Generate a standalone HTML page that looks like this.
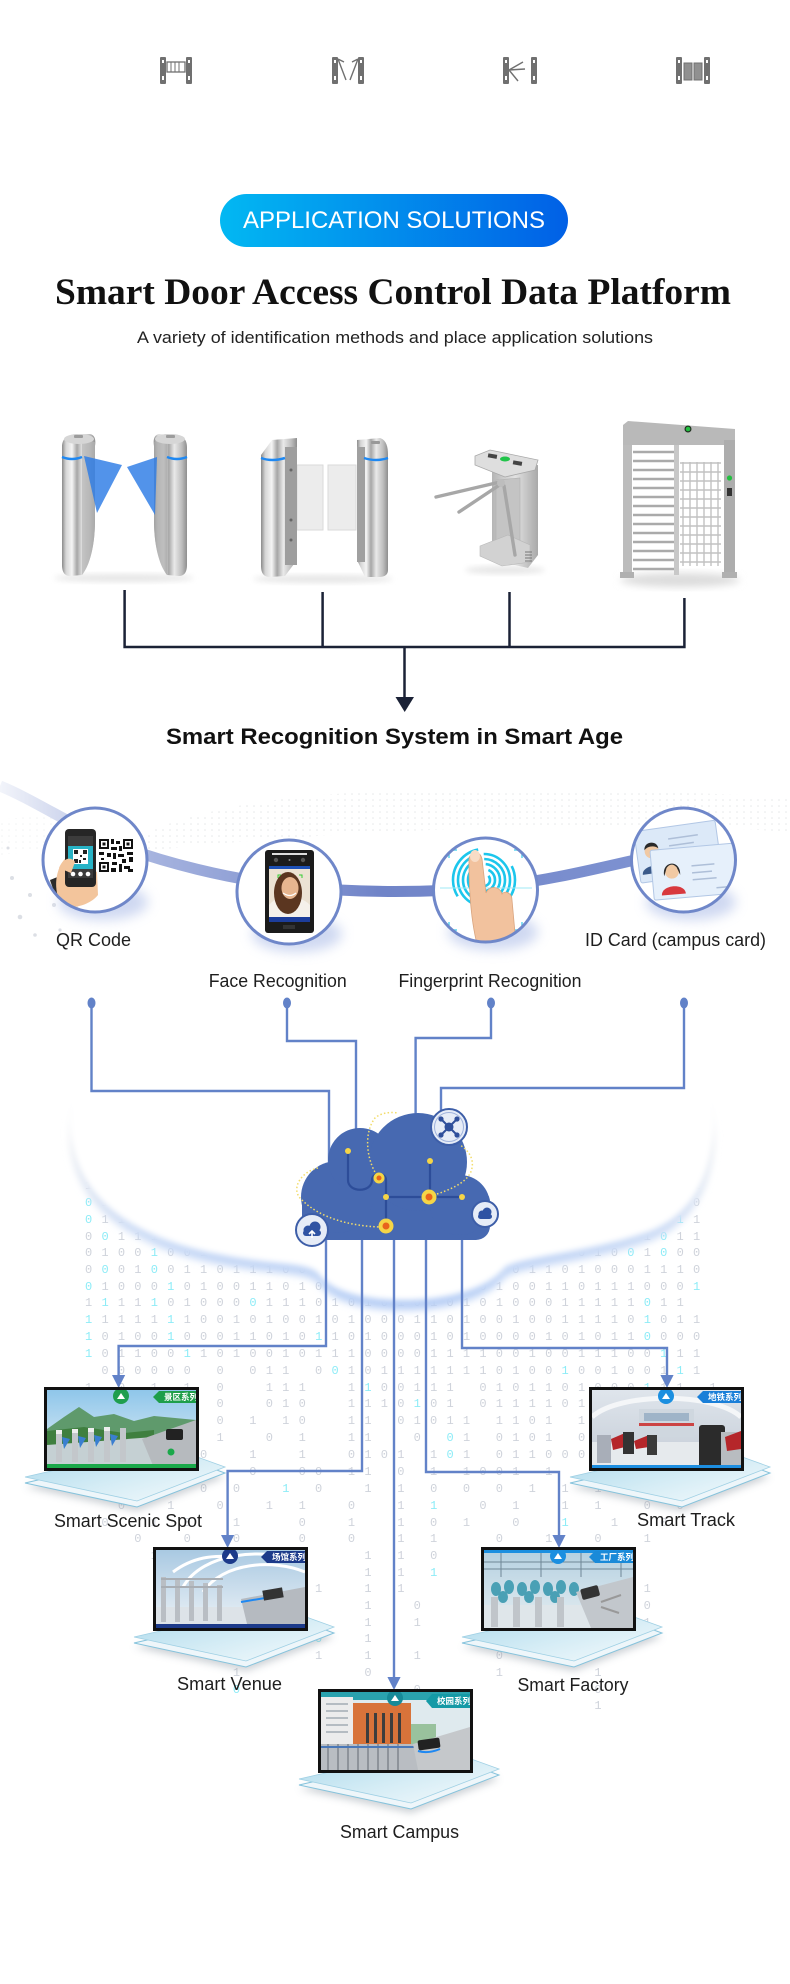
<!DOCTYPE html>
<html><head><meta charset="utf-8"><title>Smart Door Access Control Data Platform</title>
<style>
html,body{margin:0;padding:0;background:#fff;width:790px;height:1984px;overflow:hidden}
svg{display:block}
text{font-family:"Liberation Sans",Arial,sans-serif}
.lbl{font-size:18px;fill:#1e1e1e}
.bin{font-family:"Liberation Mono",monospace;font-size:12px;fill:#cfd3db;letter-spacing:9.23px;white-space:pre}
.c{fill:#8eecf7}
.tag{font-family:"Liberation Sans","Noto Sans CJK SC",sans-serif;font-size:8.5px;font-weight:bold;fill:#fff}
</style></head><body>
<svg width="790" height="1984" viewBox="0 0 790 1984" xmlns="http://www.w3.org/2000/svg">
<defs>
<linearGradient id="pill" x1="0" x2="1"><stop offset="0" stop-color="#02b8f2"/><stop offset="1" stop-color="#0160e6"/></linearGradient>
<linearGradient id="steel" x1="0" x2="1"><stop offset="0" stop-color="#8a8a8a"/><stop offset=".12" stop-color="#d6d6d6"/><stop offset=".3" stop-color="#f4f4f4"/><stop offset=".45" stop-color="#a6a6a6"/><stop offset=".62" stop-color="#e9e9e9"/><stop offset=".85" stop-color="#bcbcbc"/><stop offset="1" stop-color="#8e8e8e"/></linearGradient>
<linearGradient id="steel2" x1="0" x2="1"><stop offset="0" stop-color="#b5b5b5"/><stop offset=".5" stop-color="#e2e2e2"/><stop offset="1" stop-color="#a9a9a9"/></linearGradient>
<linearGradient id="band" x1="0" x2="1"><stop offset="0" stop-color="#f2f4fa"/><stop offset=".2" stop-color="#a9b6e0"/><stop offset=".55" stop-color="#7084c8"/><stop offset="1" stop-color="#8094d2"/></linearGradient>
<linearGradient id="plat" x1="0" y1="0" x2="1" y2="1"><stop offset="0" stop-color="#a6d7eb"/><stop offset=".55" stop-color="#d4ecf5"/><stop offset="1" stop-color="#f7fbfd"/></linearGradient>
<linearGradient id="skyA" x1="0" y1="0" x2="0" y2="1"><stop offset="0" stop-color="#8fc6ea"/><stop offset="1" stop-color="#e8f2f7"/></linearGradient>
<linearGradient id="skyB" x1="0" y1="0" x2="0" y2="1"><stop offset="0" stop-color="#dfe5ec"/><stop offset="1" stop-color="#c4ccd6"/></linearGradient>
<linearGradient id="skyC" x1="0" y1="0" x2="0" y2="1"><stop offset="0" stop-color="#a9c9e2"/><stop offset="1" stop-color="#eef3f7"/></linearGradient>
<linearGradient id="skyD" x1="0" y1="0" x2="0" y2="1"><stop offset="0" stop-color="#b4d0e0"/><stop offset="1" stop-color="#e6eef2"/></linearGradient>
<linearGradient id="cshadow" x1="0" y1="0" x2="0" y2="1"><stop offset="0" stop-color="#ffffff" stop-opacity="0"/><stop offset=".3" stop-color="#e4e8ef"/><stop offset=".7" stop-color="#c9daf6"/><stop offset="1" stop-color="#b5cdf5"/></linearGradient>
<filter id="b6" x="-30%" y="-30%" width="160%" height="160%"><feGaussianBlur stdDeviation="6"/></filter>
<filter id="b4" x="-30%" y="-30%" width="160%" height="160%"><feGaussianBlur stdDeviation="4"/></filter>
<filter id="b3" x="-30%" y="-30%" width="160%" height="160%"><feGaussianBlur stdDeviation="3"/></filter>
<filter id="b2" x="-30%" y="-30%" width="160%" height="160%"><feGaussianBlur stdDeviation="1.5"/></filter>
<pattern id="dots" width="7" height="6" patternUnits="userSpaceOnUse"><circle cx="2" cy="2" r="0.8" fill="#a3a8b2"/></pattern>
<clipPath id="cq"><circle cx="95" cy="860" r="51"/></clipPath>
<clipPath id="cf"><circle cx="289" cy="892" r="51"/></clipPath>
<clipPath id="cp"><circle cx="485.5" cy="890" r="51"/></clipPath>
<clipPath id="ci"><circle cx="683.5" cy="860" r="51"/></clipPath>
<clipPath id="scr"><rect x="3" y="3" width="149" height="78"/></clipPath>
</defs>

<!-- top gate icons -->
<g fill="#707070" stroke="none">
  <rect x="160" y="57" width="6" height="27" rx="1"/><rect x="186" y="57" width="6" height="27" rx="1"/>
  <rect x="167" y="62" width="18" height="10" fill="none" stroke="#707070" stroke-width="1.3"/>
  <path d="M171 62V72M175 62V72M179 62V72" stroke="#707070" stroke-width="1"/>
  <rect x="332" y="57" width="6" height="27" rx="1"/><rect x="358" y="57" width="6" height="27" rx="1"/>
  <path d="M338 59L346 80M358 59L350 80M338 59L344 62M358 59L352 62" stroke="#707070" stroke-width="1.4" fill="none"/>
  <rect x="503" y="57" width="6" height="27" rx="1"/><rect x="531" y="57" width="6" height="27" rx="1"/>
  <path d="M509 70L523 62M509 70L525 69M509 70L518 81" stroke="#707070" stroke-width="1.4" fill="none"/>
  <rect x="676" y="57" width="6" height="27" rx="1"/><rect x="704" y="57" width="6" height="27" rx="1"/>
  <rect x="684" y="63" width="8" height="17" fill="#909090" stroke="#707070"/><rect x="694" y="63" width="8" height="17" fill="#909090" stroke="#707070"/>
  <g fill="#fff"><rect x="162" y="60" width="2" height="3"/><rect x="162" y="76" width="2" height="4"/><rect x="188" y="60" width="2" height="3"/><rect x="188" y="76" width="2" height="4"/>
  <rect x="334" y="60" width="2" height="3"/><rect x="334" y="76" width="2" height="4"/><rect x="360" y="60" width="2" height="3"/><rect x="360" y="76" width="2" height="4"/>
  <rect x="505" y="60" width="2" height="3"/><rect x="505" y="76" width="2" height="4"/><rect x="533" y="60" width="2" height="3"/><rect x="533" y="76" width="2" height="4"/>
  <rect x="678" y="60" width="2" height="3"/><rect x="678" y="76" width="2" height="4"/><rect x="706" y="60" width="2" height="3"/><rect x="706" y="76" width="2" height="4"/></g>
</g>

<!-- pill + titles -->
<rect x="220" y="194" width="348" height="53" rx="26.5" fill="url(#pill)"/>
<text x="394" y="228" text-anchor="middle" font-size="24" fill="#fff" textLength="302" lengthAdjust="spacingAndGlyphs">APPLICATION SOLUTIONS</text>
<text x="393" y="304" text-anchor="middle" style="font-family:'Liberation Serif',serif" font-weight="bold" font-size="37" fill="#111" textLength="676" lengthAdjust="spacingAndGlyphs">Smart Door Access Control Data Platform</text>
<text x="395" y="343" text-anchor="middle" font-size="17" fill="#222" textLength="516" lengthAdjust="spacingAndGlyphs">A variety of identification methods and place application solutions</text>

<!-- product 1: flap barrier -->
<ellipse cx="124" cy="578" rx="70" ry="4" fill="#e6e6e6" filter="url(#b3)"/>
<path d="M62 447C62 438 68 434 78 434L90 434C95 435 96 440 95 446L95 520C95 545 90 565 82 575L70 576C64 576 62 571 62 565Z" fill="url(#steel)"/>
<path d="M82 440L95 442L95 520C95 545 90 565 82 575Z" fill="#b3b3b3" opacity=".7"/>
<ellipse cx="79" cy="439" rx="15" ry="5" fill="#d6d6d6"/>
<rect x="74" y="435" width="9" height="3" rx="1" fill="#9c9c9c"/>
<path d="M62 457Q72 461 82 457" stroke="#1e88f2" stroke-width="2.5" fill="none"/>
<path d="M187 447C187 438 181 434 171 434L159 434C154 435 153 440 154 446L154 520C154 545 159 565 167 575L179 576C185 576 187 571 187 565Z" fill="url(#steel)"/>
<path d="M167 440L154 442L154 520C154 545 159 565 167 575Z" fill="#a8a8a8" opacity=".7"/>
<ellipse cx="170" cy="439" rx="15" ry="5" fill="#d6d6d6"/>
<rect x="166" y="435" width="9" height="3" rx="1" fill="#9c9c9c"/>
<path d="M167 457Q177 461 187 457" stroke="#1e88f2" stroke-width="2.5" fill="none"/>
<polygon points="84,456 122,465 97,513" fill="#2c7be5" opacity=".82"/>
<polygon points="127,467 157,457 155,515" fill="#2c7be5" opacity=".82"/>

<!-- product 2: speed gate -->
<ellipse cx="323" cy="579" rx="70" ry="4" fill="#e6e6e6" filter="url(#b3)"/>
<rect x="297" y="465" width="26" height="65" fill="#ececec" stroke="#dadada"/>
<rect x="328" y="465" width="28" height="65" fill="#ececec" stroke="#dadada"/>
<path d="M261 455L272 440L297 438L297 560L285 576L270 577C262 577 261 571 261 565Z" fill="url(#steel)"/>
<rect x="285" y="447" width="12" height="118" fill="#9e9e9e"/>
<circle cx="291" cy="470" r="1.5" fill="#666"/><circle cx="291" cy="520" r="1.5" fill="#666"/><circle cx="291" cy="540" r="1.5" fill="#666"/>
<path d="M261 458Q272 462 285 458" stroke="#1e88f2" stroke-width="2.5" fill="none"/>
<path d="M357 440L380 438C386 440 388 446 388 455L388 570C388 576 383 577 378 577L365 577L358 562Z" fill="url(#steel)"/>
<rect x="357" y="447" width="8" height="115" fill="#a0a0a0"/>
<path d="M364 458Q376 462 388 458" stroke="#1e88f2" stroke-width="2.5" fill="none"/>
<rect x="371" y="441" width="9" height="3" rx="1" fill="#999"/>

<!-- product 3: tripod -->
<ellipse cx="505" cy="570" rx="40" ry="4" fill="#e6e6e6" filter="url(#b3)"/>
<polygon points="492,470 538,465 538,555 528,568 492,560" fill="url(#steel2)"/>
<polygon points="496,480 520,478 520,545 496,540" fill="#c4c4c4" stroke="#b0b0b0" stroke-width=".6"/>
<polygon points="480,546 508,535 530,545 530,562 502,566 480,556" fill="#d2d2d2" stroke="#b8b8b8" stroke-width=".6"/>
<polygon points="475,456 490,450 538,460 535,470 505,477 475,465" fill="#dedede" stroke="#a9a9a9" stroke-width=".8"/>
<rect x="488" y="454" width="9" height="4" fill="#444" transform="rotate(10 492 456)"/>
<rect x="513" y="461" width="9" height="4" fill="#444" transform="rotate(10 517 463)"/>
<ellipse cx="505" cy="459" rx="5" ry="2.5" fill="#21c44a"/>
<g stroke="#a7a7a7" stroke-width="3.4" stroke-linecap="round" fill="none">
<path d="M500 482L436 497"/><path d="M501 484L459 512"/><path d="M504 486L515 555"/></g>
<circle cx="501" cy="483" r="4" fill="#bdbdbd"/>
<path d="M525 552H532M525 555H532M525 558H532M525 561H532" stroke="#777" stroke-width="1"/>

<!-- product 4: full height -->
<ellipse cx="680" cy="580" rx="60" ry="7" fill="#dcdcdc" filter="url(#b4)"/>
<polygon points="623,425 628,421 735,429 735,445 623,445" fill="#b9b9b9"/>
<circle cx="688" cy="429" r="3.5" fill="#1f2f1f"/><circle cx="688" cy="429" r="2.3" fill="#22c040"/>
<path d="M633 452H676M633 461H676M633 470H676M633 479H676M633 488H676M633 497H676M633 506H676M633 515H676M633 524H676M633 533H676M633 542H676M633 551H676M633 560H676M633 569H676" stroke="#aaaaaa" stroke-width="2.4"/>
<path d="M683 462V566M690 462V566M697 462V566M704 462V566M711 462V566M718 462V566M680 463H721M680 472H721M680 481H721M680 490H721M680 499H721M680 508H721M680 517H721M680 526H721M680 535H721M680 544H721M680 553H721M680 562H721" stroke="#c2c2c2" stroke-width="1.4"/>
<rect x="623" y="445" width="9" height="130" fill="#bcbcbc"/>
<rect x="674" y="445" width="5" height="130" fill="#c8c8c8"/>
<rect x="724" y="440" width="11" height="138" fill="#adadad"/>
<circle cx="729.5" cy="478" r="2.6" fill="#22c040"/><rect x="727" y="488" width="5" height="8" fill="#333"/>
<rect x="620" y="572" width="14" height="6" fill="#b0b0b0"/><rect x="722" y="572" width="15" height="6" fill="#b0b0b0"/>

<!-- connectors -->
<path d="M124.6 590V647H684.4V598M322.6 592V647M509.5 592V647M404.5 647V698" fill="none" stroke="#1b2236" stroke-width="2.5"/>
<polygon points="395.5,697 414,697 404.7,712" fill="#1b2236"/>
<text x="394.5" y="744" text-anchor="middle" font-weight="bold" font-size="22" fill="#111" textLength="457" lengthAdjust="spacingAndGlyphs">Smart Recognition System in Smart Age</text>

<!-- recognition background -->
<path d="M140 835C220 800 330 790 430 792C540 795 650 788 790 798L790 832C650 822 540 826 430 830C330 834 220 842 140 852Z" fill="url(#dots)" opacity=".28"/>
<path d="M0 820C40 815 80 812 140 820L140 860C80 850 40 850 0 855Z" fill="url(#dots)" opacity=".15"/>
<g fill="#dcdfe5"><circle cx="12" cy="878" r="2"/><circle cx="30" cy="895" r="2"/><circle cx="20" cy="917" r="2.3"/><circle cx="54" cy="905" r="2"/><circle cx="35" cy="935" r="1.8"/><circle cx="8" cy="848" r="1.5"/><circle cx="60" cy="930" r="1.6"/></g>
<path d="M0 786C30 798 70 824 110 842C160 862 230 880 300 887C360 893 430 893 490 887C560 880 620 862 690 848" fill="none" stroke="url(#band)" stroke-width="11"/>

<!-- circle shadows -->
<g fill="#c3cfee" filter="url(#b6)" opacity=".8">
<ellipse cx="103" cy="902" rx="45" ry="18"/><ellipse cx="297" cy="934" rx="45" ry="18"/><ellipse cx="493" cy="932" rx="45" ry="18"/><ellipse cx="691" cy="902" rx="45" ry="18"/></g>
<g fill="#fff"><circle cx="95" cy="860" r="52"/><circle cx="289" cy="892" r="52"/><circle cx="485.5" cy="890" r="52"/><circle cx="683.5" cy="860" r="52"/></g>

<!-- QR circle -->
<g clip-path="url(#cq)">
<path d="M40 885L62 876L82 915L40 915Z" fill="#e2e2e2"/>
<path d="M50 880L60 876L74 912L62 915Z" fill="#2a2a2a"/>
<path d="M57 893C54 878 59 863 68 856L78 860L97 872L98 895C90 905 72 910 62 905Z" fill="#f3c59c"/>
<rect x="65" y="829" width="31" height="58" rx="4" fill="#262626"/>
<rect x="68" y="836" width="25" height="42" fill="#3c3c3c"/>
<rect x="68" y="846" width="25" height="23" fill="#27b3c6"/>
<rect x="73" y="849" width="15" height="15" fill="#fff"/>
<path d="M74 850h4v4h-4zM83 850h4v4h-4zM74 859h4v4h-4zM80 855h2v2h-2zM83 858h3v2h-3zM79 860h2v3h-2z" fill="#222"/>
<circle cx="73" cy="874" r="2.3" fill="#fff"/><circle cx="80.5" cy="874" r="2.3" fill="#fff"/><circle cx="88" cy="874" r="2.3" fill="#fff"/>
<path d="M59 868C63 858 71 856 75 862L71 873Z" fill="#f3c59c"/>
<rect x="99" y="839" width="34" height="33" fill="#fff"/>
<g fill="#111"><rect x="99" y="839" width="10" height="10"/><rect x="123" y="839" width="10" height="10"/><rect x="99" y="862" width="10" height="10"/></g>
<g fill="#fff"><rect x="101" y="841" width="6" height="6"/><rect x="125" y="841" width="6" height="6"/><rect x="101" y="864" width="6" height="6"/></g>
<g fill="#111"><rect x="102.5" y="842.5" width="3" height="3"/><rect x="126.5" y="842.5" width="3" height="3"/><rect x="102.5" y="865.5" width="3" height="3"/>
<rect x="111" y="839" width="3" height="5"/><rect x="116" y="841" width="4" height="3"/><rect x="111" y="847" width="6" height="3"/><rect x="119" y="846" width="3" height="5"/><rect x="99" y="852" width="5" height="3"/><rect x="107" y="853" width="4" height="4"/><rect x="113" y="853" width="3" height="6"/><rect x="118" y="854" width="6" height="3"/><rect x="127" y="852" width="6" height="3"/><rect x="101" y="858" width="3" height="2"/><rect x="122" y="859" width="4" height="4"/><rect x="129" y="857" width="4" height="5"/><rect x="112" y="862" width="5" height="3"/><rect x="119" y="864" width="3" height="8"/><rect x="111" y="868" width="5" height="4"/><rect x="124" y="866" width="6" height="3"/><rect x="128" y="869" width="5" height="3"/></g>
</g>
<circle cx="95" cy="860" r="52" fill="none" stroke="#6f87c9" stroke-width="3"/>

<!-- face circle -->
<g clip-path="url(#cf)">
<rect x="265" y="850" width="49" height="83" rx="3" fill="#1b1b1b"/>
<rect x="272" y="853" width="35" height="2" fill="#ddd"/>
<circle cx="276" cy="860" r="2.2" fill="#555"/><circle cx="303" cy="860" r="2.2" fill="#555"/><circle cx="289.5" cy="860" r="1" fill="#888"/>
<rect x="269" y="866" width="41" height="56" fill="#ece2d3"/>
<rect x="269" y="866" width="41" height="3" fill="#1c4fb5"/>
<path d="M269 922L269 905C275 898 282 897 289 897C297 897 304 899 310 905L310 922Z" fill="#f5f0ea"/>
<ellipse cx="288" cy="893" rx="14" ry="21" fill="#5b3620"/>
<ellipse cx="290" cy="888" rx="8.5" ry="11" fill="#e7b58f"/>
<path d="M283 893Q290 898 296 893" stroke="#fff" stroke-width="1.2" fill="none"/>
<rect x="269" y="917" width="41" height="5" fill="#1c3d9b"/>
<rect x="283" y="925" width="12" height="4" fill="#333"/>
<path d="M278 878V875H281M299 875H302V878" stroke="#3c3" stroke-width="1" fill="none"/>
</g>
<circle cx="289" cy="892" r="52" fill="none" stroke="#6f87c9" stroke-width="3"/>

<!-- fingerprint circle -->
<g clip-path="url(#cp)">
<g fill="none" stroke="#1cc6ec" stroke-width="2.6">
<circle cx="484" cy="880" r="6" stroke-dasharray="28 5"/>
<circle cx="484" cy="880" r="11" stroke-dasharray="50 6"/>
<circle cx="484" cy="880" r="16" stroke-dasharray="70 7"/>
<circle cx="484" cy="880" r="21" stroke-dasharray="90 9"/>
<circle cx="484" cy="880" r="26" stroke-dasharray="110 12"/>
<circle cx="484" cy="880" r="31" stroke-dasharray="60 20 60 40"/>
</g>
<path d="M440 888H532" stroke="#9fe8f5" stroke-width="1"/>
<path d="M449 858V850H457M514 850H522V858M449 922V930H457M514 930H522V922" stroke="#5dd5ef" stroke-width="1.5" fill="none"/>
<path d="M469 862C468 851 480 849 482 859L486 893C489 885 500 886 502 894C505 890 512 893 512 900L516 944L478 948C472 926 469 900 469 862Z" fill="#f2c29e" stroke="#d9a47e" stroke-width=".8"/>
<ellipse cx="475" cy="856" rx="5" ry="6" fill="#f8dcc6"/>
</g>
<circle cx="485.5" cy="890" r="52" fill="none" stroke="#6f87c9" stroke-width="3"/>

<!-- ID card circle -->
<g clip-path="url(#ci)">
<g transform="rotate(-8 676 852)">
<rect x="637" y="826" width="82" height="52" rx="2" fill="#dce9f8" stroke="#b2c7e5"/>
<circle cx="652" cy="848" r="7" fill="#f1c9a3"/>
<path d="M645 846C645 837 659 837 659 846C656 842 648 842 645 846Z" fill="#2a2a2a"/>
<path d="M640 870C640 860 664 860 664 870Z" fill="#3b5a8a"/>
<path d="M670 838H700M670 845H695" stroke="#aebfd8" stroke-width="1.5"/>
</g>
<g transform="rotate(-5 690 872)">
<rect x="652" y="847" width="86" height="50" rx="2" fill="#e6f0fb" stroke="#b2c7e5"/>
<circle cx="672" cy="870" r="7" fill="#f1c9a3"/>
<path d="M664 874C662 858 682 858 680 874L677 866C674 862 670 862 667 866Z" fill="#2a2a2a"/>
<path d="M660 893C660 882 684 882 684 893Z" fill="#d8393e"/>
<path d="M692 866H715M692 873H712M692 880H716M715 890H730" stroke="#aebfd8" stroke-width="1.5"/>
</g>
</g>
<circle cx="683.5" cy="860" r="52" fill="none" stroke="#6f87c9" stroke-width="3"/>

<!-- labels -->
<text class="lbl" x="93.5" y="946" text-anchor="middle" textLength="75" lengthAdjust="spacingAndGlyphs">QR Code</text>
<text class="lbl" x="277.7" y="987" text-anchor="middle" textLength="138" lengthAdjust="spacingAndGlyphs">Face Recognition</text>
<text class="lbl" x="490" y="987" text-anchor="middle" textLength="183" lengthAdjust="spacingAndGlyphs">Fingerprint Recognition</text>
<text class="lbl" x="675.5" y="946" text-anchor="middle" textLength="181" lengthAdjust="spacingAndGlyphs">ID Card (campus card)</text>

<!-- binary digits -->
<g xml:space="preserve">
<text class="bin" x="85" y="1189">1<tspan class="c">0</tspan>11010011010110010110100101101001<tspan class="c">1</tspan>011</text>
<text class="bin" x="85" y="1206"><tspan class="c">0</tspan>1010010110100110010101101001110100<tspan class="c">1</tspan>10</text>
<text class="bin" x="85" y="1223"><tspan class="c">0</tspan>11010010111001011010011100101101010<tspan class="c">1</tspan>1</text>
<text class="bin" x="85" y="1240">0<tspan class="c">0</tspan>111101001011010011010110100101101<tspan class="c">0</tspan>11</text>
<text class="bin" x="85" y="1256">0100<tspan class="c">1</tspan>0011010111001001110100101010<tspan class="c">0</tspan>1<tspan class="c">0</tspan>00</text>
<text class="bin" x="85" y="1273">0<tspan class="c">0</tspan>01<tspan class="c">0</tspan>011011100<tspan class="c">0</tspan>01011001101011010001110</text>
<text class="bin" x="85" y="1290"><tspan class="c">0</tspan>1000<tspan class="c">1</tspan>0100110100100010110100110111000<tspan class="c">1</tspan></text>
<text class="bin" x="85" y="1306">1<tspan class="c">1</tspan>11<tspan class="c">1</tspan>01000<tspan class="c">0</tspan>11101010101010100011111<tspan class="c">0</tspan>11</text>
<text class="bin" x="85" y="1323"><tspan class="c">1</tspan>1111<tspan class="c">1</tspan>1001010010100011010010011110<tspan class="c">1</tspan>011</text>
<text class="bin" x="85" y="1340"><tspan class="c">1</tspan>0100<tspan class="c">1</tspan>00011010<tspan class="c">1</tspan>1010001010000101011<tspan class="c">0</tspan>000</text>
<text class="bin" x="85" y="1357"><tspan class="c">1</tspan>01100<tspan class="c">1</tspan>1010010111000011110010011100<tspan class="c">1</tspan>11</text>
<text class="bin" x="85" y="1374"> 000000 0 011 0<tspan class="c">0</tspan>1011111110100<tspan class="c">1</tspan>001001<tspan class="c">1</tspan>1</text>
<text class="bin" x="85" y="1391">1 0 1 1 0  111  1<tspan class="c">1</tspan>00111 0101101000<tspan class="c">1</tspan>11 1</text>
<text class="bin" x="85" y="1407">0 1 0 0 0  010  1110<tspan class="c">1</tspan>01 0111101010 <tspan class="c">1</tspan> 01</text>
<text class="bin" x="85" y="1424">  1  10 0 1 10  11 01011 1101 1110 1 0</text>
<text class="bin" x="85" y="1441">1 0   0 1  0 1  11  0 <tspan class="c">0</tspan>1 0101 0010 1 1</text>
<text class="bin" x="85" y="1458">  1  1 0  1  1  0101 1<tspan class="c">0</tspan>1 011000  11 0</text>
<text class="bin" x="85" y="1475">0  0 1 1  0  00 11 0 1 1001 1  1 0 1</text>
<text class="bin" x="85" y="1492">1 0 1  0 0  <tspan class="c">1</tspan> 0  1 1 0 0 0 1 1 1 0  1</text>
<text class="bin" x="85" y="1509">  0  1  0  1 1  0  1 <tspan class="c">1</tspan>  0 1  1 1  0 0</text>
<text class="bin" x="85" y="1526"> 0  1 0  1   0  1  1 0 1  0  <tspan class="c">1</tspan>  1  0</text>
<text class="bin" x="85" y="1542">   0  0  0   0  0  1 1   0  1  0  1</text>
<text class="bin" x="85" y="1559">    1    <tspan class="c">1</tspan>   0   1 1 0    1  1  1</text>
<text class="bin" x="85" y="1576">     1   0       1 1 <tspan class="c">1</tspan>   0  1  1</text>
<text class="bin" x="85" y="1592">     1   1    1  1 1     0     1  1</text>
<text class="bin" x="85" y="1609">     <tspan class="c">0</tspan>      1    1  0    1  1  1  0</text>
<text class="bin" x="85" y="1626">         0       1  1    0     1  1</text>
<text class="bin" x="85" y="1642">         1    <tspan class="c">0</tspan>  1       1  0  1</text>
<text class="bin" x="85" y="1659">              1  1  1    0  0</text>
<text class="bin" x="85" y="1676">         1       0       1     1</text>
<text class="bin" x="85" y="1693">         <tspan class="c">0</tspan>          0          0</text>
<text class="bin" x="85" y="1709">                               1</text>
</g>

<!-- big white cloud -->
<path d="M110 1075L674 1075C700 1075 714 1095 714 1130C712 1185 690 1220 650 1236C610 1250 575 1255 540 1262C520 1266 512 1268 505 1272C490 1292 450 1305 405 1305C360 1305 330 1295 318 1278C312 1272 300 1270 280 1268C220 1262 180 1252 150 1238C100 1215 72 1180 70 1130C70 1095 84 1075 110 1075Z" fill="url(#cshadow)" filter="url(#b4)" transform="translate(0,5)"/>
<path d="M110 1075L674 1075C700 1075 714 1095 714 1130C712 1185 690 1220 650 1236C610 1250 575 1255 540 1262C520 1266 512 1268 505 1272C490 1292 450 1305 405 1305C360 1305 330 1295 318 1278C312 1272 300 1270 280 1268C220 1262 180 1252 150 1238C100 1215 72 1180 70 1130C70 1095 84 1075 110 1075Z" fill="#ffffff" filter="url(#b3)" transform="translate(0,-5)"/>

<!-- connection lines -->
<g fill="none" stroke="#6282c8" stroke-width="2.4">
<path d="M91.5 1003V1091H329V1168"/>
<path d="M287 1003V1041H356V1132"/>
<path d="M491 1003V1038H415.6V1116"/>
<path d="M684 1003V1088H441V1112"/>
<path d="M326 1236V1346H118.6V1377"/>
<path d="M362 1236V1471H227.6V1537"/>
<path d="M394 1236V1679"/>
<path d="M426 1236V1472H559V1537"/>
<path d="M462 1236V1348H667V1377"/>
</g>
<g fill="#6282c8">
<ellipse cx="91.5" cy="1003" rx="4" ry="5.5"/><ellipse cx="287" cy="1003" rx="4" ry="5.5"/><ellipse cx="491" cy="1003" rx="4" ry="5.5"/><ellipse cx="684" cy="1003" rx="4" ry="5.5"/>
<polygon points="112,1375 125.2,1375 118.6,1388"/>
<polygon points="221,1535 234.2,1535 227.6,1548"/>
<polygon points="387.4,1677 400.6,1677 394,1690"/>
<polygon points="552.4,1535 565.6,1535 559,1548"/>
<polygon points="660.4,1375 673.6,1375 667,1388"/>
</g>

<!-- blue cloud -->
<g fill="#4769b1">
<rect x="302" y="1188" width="188" height="52" rx="14"/>
<circle cx="337" cy="1197" r="36"/>
<circle cx="360" cy="1160" r="32"/>
<circle cx="418" cy="1162" r="49"/>
<circle cx="460" cy="1205" r="30"/>
<rect x="340" y="1160" width="120" height="40"/>
</g>
<g fill="none" stroke="#f2dc6a" stroke-width="1.5" stroke-dasharray="1.5 2.2">
<path d="M379 1178C368 1165 362 1135 375 1118C382 1112 392 1112 398 1113"/>
<path d="M318 1168C300 1172 290 1190 302 1200C320 1218 350 1226 380 1227"/>
<path d="M437 1194C455 1188 470 1180 472 1168C474 1158 468 1150 460 1145"/>
</g>
<g fill="none" stroke="#2d4d99" stroke-width="2.2">
<path d="M348 1151V1180C348 1193 372 1193 372 1180C372 1172 386 1172 386 1180V1226"/>
<path d="M386 1197H462M430 1161V1197"/>
</g>
<g fill="#f5d547"><circle cx="348" cy="1151" r="3"/><circle cx="430" cy="1161" r="3"/><circle cx="386" cy="1197" r="3"/><circle cx="462" cy="1197" r="3"/>
<circle cx="379" cy="1178" r="5.5"/><circle cx="429" cy="1197" r="7.5"/><circle cx="386" cy="1226" r="7.5"/></g>
<g fill="#e8641c"><circle cx="379" cy="1178" r="2.5"/><circle cx="429" cy="1197" r="3.5"/><circle cx="386" cy="1226" r="3.5"/></g>
<circle cx="449" cy="1127" r="18" fill="#e6ecf7" stroke="#3d5ea8" stroke-width="2"/>
<circle cx="449" cy="1127" r="14.5" fill="none" stroke="#9fb2dc" stroke-width="1"/>
<path d="M441 1119L457 1135M457 1119L441 1135" stroke="#2f4f9b" stroke-width="2"/>
<g fill="#2f4f9b"><circle cx="441" cy="1119" r="2.6"/><circle cx="457" cy="1119" r="2.6"/><circle cx="441" cy="1135" r="2.6"/><circle cx="457" cy="1135" r="2.6"/><circle cx="449" cy="1127" r="4.5"/></g>
<circle cx="312" cy="1230" r="16" fill="#e6ecf7" stroke="#3d5ea8" stroke-width="2"/>
<g fill="#2f53a3"><circle cx="308" cy="1230" r="4.5"/><circle cx="315" cy="1227" r="5.5"/><rect x="303" y="1230" width="18" height="6" rx="3"/></g>
<path d="M312 1238V1231M309 1234L312 1231L315 1234" stroke="#fff" stroke-width="1.6" fill="none"/>
<circle cx="485" cy="1214" r="13" fill="#e6ecf7" stroke="#3d5ea8" stroke-width="2"/>
<g fill="#2f53a3"><circle cx="482" cy="1214" r="3.5"/><circle cx="487" cy="1212" r="4.5"/><rect x="478" y="1214" width="14" height="5" rx="2.5"/></g>

<!-- platforms -->
<g>
<g transform="translate(44,1387)">
<polygon points="-19,90 120,58 181,80 93,114" fill="#8e98a3" opacity=".45" filter="url(#b4)" transform="translate(0,10)"/>
<polygon points="-19,90 120,58 181,80 93,114" fill="#eef6fa" stroke="#86c3dc" transform="translate(0,6)"/>
<polygon points="-19,90 120,58 181,80 93,114" fill="url(#plat)" stroke="#9fd0e4" stroke-width=".8"/></g>
<g transform="translate(589,1387)">
<polygon points="-19,90 120,58 181,80 93,114" fill="#8e98a3" opacity=".45" filter="url(#b4)" transform="translate(0,10)"/>
<polygon points="-19,90 120,58 181,80 93,114" fill="#eef6fa" stroke="#86c3dc" transform="translate(0,6)"/>
<polygon points="-19,90 120,58 181,80 93,114" fill="url(#plat)" stroke="#9fd0e4" stroke-width=".8"/></g>
<g transform="translate(153,1547)">
<polygon points="-19,90 120,58 181,80 93,114" fill="#8e98a3" opacity=".45" filter="url(#b4)" transform="translate(0,10)"/>
<polygon points="-19,90 120,58 181,80 93,114" fill="#eef6fa" stroke="#86c3dc" transform="translate(0,6)"/>
<polygon points="-19,90 120,58 181,80 93,114" fill="url(#plat)" stroke="#9fd0e4" stroke-width=".8"/></g>
<g transform="translate(481,1547)">
<polygon points="-19,90 120,58 181,80 93,114" fill="#8e98a3" opacity=".45" filter="url(#b4)" transform="translate(0,10)"/>
<polygon points="-19,90 120,58 181,80 93,114" fill="#eef6fa" stroke="#86c3dc" transform="translate(0,6)"/>
<polygon points="-19,90 120,58 181,80 93,114" fill="url(#plat)" stroke="#9fd0e4" stroke-width=".8"/></g>
<g transform="translate(318,1689)">
<polygon points="-19,90 120,58 181,80 93,114" fill="#8e98a3" opacity=".45" filter="url(#b4)" transform="translate(0,10)"/>
<polygon points="-19,90 120,58 181,80 93,114" fill="#eef6fa" stroke="#86c3dc" transform="translate(0,6)"/>
<polygon points="-19,90 120,58 181,80 93,114" fill="url(#plat)" stroke="#9fd0e4" stroke-width=".8"/></g>
</g>

<!-- screen: scenic -->
<g transform="translate(44,1387)">
<rect width="155" height="84" fill="#111"/>
<g clip-path="url(#scr)">
<rect x="3" y="3" width="149" height="78" fill="url(#skyA)"/>
<polygon points="3,42 20,30 35,20 50,30 70,27 90,34 110,29 152,33 152,81 3,81" fill="#5f9a6c"/>
<rect x="3" y="48" width="149" height="33" fill="#c5d0d3"/>
<polygon points="3,44 40,40 80,46 110,43 110,50 3,58" fill="#3f7f3f"/>
<g fill="#c3c7cb"><rect x="12" y="45" width="6" height="30"/><rect x="28" y="44" width="6" height="31"/><rect x="44" y="43" width="6" height="32"/><rect x="60" y="42" width="6" height="33"/><rect x="76" y="41" width="6" height="34"/></g>
<g fill="#3a7fd0"><polygon points="18,50 26,52 20,62"/><polygon points="34,49 42,51 36,61"/><polygon points="50,48 58,50 52,60"/><polygon points="66,47 74,49 68,59"/></g>
<g fill="#eee"><rect x="12" y="43" width="6" height="4"/><rect x="28" y="42" width="6" height="4"/><rect x="44" y="41" width="6" height="4"/><rect x="60" y="40" width="6" height="4"/></g>
<polygon points="98,52 152,33 152,81 110,81" fill="#b6babe"/>
<rect x="122" y="42" width="17" height="11" rx="2" fill="#222"/>
<circle cx="127" cy="65" r="3.5" fill="#1aa84a"/>
<rect x="3" y="77" width="149" height="4" fill="#1aa84a"/>
<circle cx="77" cy="9" r="8" fill="#1f9e4e"/><polygon points="73,12 81,12 77,6" fill="#fff"/>
<polygon points="109,10 115,4 152,4 152,16 115,16" fill="#1e9e4a"/>
<text class="tag" x="120" y="13">景区系列</text>
</g></g>

<!-- screen: track -->
<g transform="translate(589,1387)">
<rect width="155" height="84" fill="#111"/>
<g clip-path="url(#scr)">
<rect x="3" y="3" width="149" height="78" fill="url(#skyB)"/>
<path d="M3 30C30 5 125 5 152 30" fill="none" stroke="#f4f6f8" stroke-width="5"/>
<rect x="50" y="22" width="55" height="28" fill="#cfd7df"/>
<rect x="50" y="36" width="55" height="3" fill="#c44"/>
<rect x="55" y="26" width="45" height="8" fill="#9fb4c8"/>
<rect x="3" y="55" width="149" height="26" fill="#e6eaed"/>
<rect x="8" y="48" width="14" height="28" fill="#a8aeb8"/>
<polygon points="22,52 36,46 36,60 24,63" fill="#b5262a"/>
<rect x="34" y="45" width="11" height="22" fill="#333"/>
<polygon points="45,54 60,48 60,60 47,62" fill="#b5262a"/>
<rect x="58" y="48" width="10" height="20" fill="#3a3a3a"/>
<rect x="110" y="38" width="26" height="43" rx="3" fill="#2b2b2b"/>
<rect x="132" y="45" width="20" height="36" fill="#b8bcc0"/>
<polygon points="136,50 152,44 152,62 138,64" fill="#b5262a"/>
<rect x="3" y="78" width="149" height="3" fill="#1d8ee0"/>
<circle cx="77" cy="9" r="8" fill="#1b8fe0"/><polygon points="73,12 81,12 77,6" fill="#fff"/>
<polygon points="108,10 114,4 152,4 152,16 114,16" fill="#1a7fd8"/>
<text class="tag" x="119" y="13">地铁系列</text>
</g></g>

<!-- screen: venue -->
<g transform="translate(153,1547)">
<rect width="155" height="84" fill="#111"/>
<g clip-path="url(#scr)">
<rect x="3" y="3" width="149" height="78" fill="url(#skyC)"/>
<path d="M30 40C50 5 110 0 152 15M50 45C70 15 120 12 152 25M20 25C40 10 60 8 80 10" fill="none" stroke="#fff" stroke-width="3"/>
<rect x="3" y="60" width="149" height="21" fill="#dde3e8"/>
<g fill="#b9bec4"><rect x="8" y="30" width="5" height="45"/><rect x="22" y="32" width="5" height="43"/><rect x="36" y="34" width="5" height="40"/><rect x="50" y="36" width="5" height="38"/><rect x="64" y="38" width="5" height="36"/></g>
<path d="M8 32H70M8 40H70" stroke="#a9aeb4" stroke-width="2"/>
<polygon points="88,52 152,40 152,81 95,81" fill="#b5bac0"/>
<path d="M88 55L118 50" stroke="#1e88f2" stroke-width="2"/>
<rect x="110" y="42" width="20" height="10" fill="#333" transform="rotate(-10 120 47)"/>
<rect x="3" y="77" width="149" height="4" fill="#1c3a8a"/>
<circle cx="77" cy="9" r="8" fill="#1c3a8a"/><polygon points="73,12 81,12 77,6" fill="#fff"/>
<polygon points="108,10 114,4 152,4 152,16 114,16" fill="#1c3a8a"/>
<text class="tag" x="119" y="13">场馆系列</text>
</g></g>

<!-- screen: factory -->
<g transform="translate(481,1547)">
<rect width="155" height="84" fill="#111"/>
<g clip-path="url(#scr)">
<rect x="3" y="3" width="149" height="78" fill="url(#skyD)"/>
<path d="M3 15H152M3 22H152M20 3V30M60 3V30M100 3V30M140 3V30" stroke="#6f8796" stroke-width="1"/>
<rect x="3" y="3" width="149" height="3" fill="#1b8fe0"/>
<g fill="#4aa0b5"><ellipse cx="15" cy="42" rx="5" ry="7"/><ellipse cx="28" cy="40" rx="5" ry="7"/><ellipse cx="41" cy="42" rx="5" ry="7"/><ellipse cx="54" cy="40" rx="5" ry="7"/><ellipse cx="67" cy="42" rx="5" ry="7"/><ellipse cx="80" cy="40" rx="5" ry="7"/><ellipse cx="93" cy="42" rx="5" ry="7"/><ellipse cx="22" cy="50" rx="5" ry="6"/><ellipse cx="48" cy="50" rx="5" ry="6"/><ellipse cx="74" cy="50" rx="5" ry="6"/></g>
<rect x="3" y="58" width="149" height="23" fill="#dfe6ea"/>
<g fill="#c0c5ca"><rect x="10" y="50" width="7" height="30"/><rect x="32" y="50" width="7" height="30"/><rect x="54" y="50" width="7" height="30"/><rect x="76" y="50" width="7" height="30"/></g>
<polygon points="95,45 152,30 152,81 110,81" fill="#c2c7cc"/>
<rect x="100" y="40" width="18" height="11" rx="2" fill="#333" transform="rotate(-15 109 45)"/>
<path d="M120 55L140 48M120 60L138 66" stroke="#999" stroke-width="2"/>
<circle cx="77" cy="9" r="8" fill="#1b8fe0"/><polygon points="73,12 81,12 77,6" fill="#fff"/>
<polygon points="108,10 114,4 152,4 152,16 114,16" fill="#1a8ad8"/>
<text class="tag" x="119" y="13">工厂系列</text>
</g></g>

<!-- screen: campus -->
<g transform="translate(318,1689)">
<rect width="155" height="84" fill="#111"/>
<g clip-path="url(#scr)">
<rect x="3" y="3" width="149" height="78" fill="#dfeaee"/>
<rect x="3" y="3" width="149" height="8" fill="#2aa2ae"/>
<rect x="3" y="8" width="32" height="55" fill="#ececec"/>
<path d="M8 15H30M8 22H30M8 29H30M8 36H30M8 43H30" stroke="#b5bcc2" stroke-width="2"/>
<rect x="35" y="14" width="58" height="48" fill="#d8733a"/>
<g fill="#3d3d3d"><rect x="48" y="24" width="3" height="30"/><rect x="56" y="24" width="3" height="30"/><rect x="64" y="24" width="3" height="30"/><rect x="72" y="24" width="3" height="30"/><rect x="80" y="24" width="3" height="30"/></g>
<rect x="93" y="35" width="25" height="22" fill="#7bb07a" opacity=".7"/>
<rect x="3" y="55" width="100" height="26" fill="#b9bdc2"/>
<path d="M10 55V81M20 55V81M30 55V81M40 55V81M50 55V81M60 55V81M70 55V81M80 55V81" stroke="#8e939a" stroke-width="2"/>
<path d="M3 58H100" stroke="#4a78b8" stroke-width="2"/>
<polygon points="95,55 152,38 152,81 100,81" fill="#c5c8cb"/>
<rect x="100" y="50" width="22" height="10" rx="2" fill="#222" transform="rotate(-8 111 55)"/>
<path d="M100 62Q110 65 122 60" stroke="#1e88f2" stroke-width="2" fill="none"/>
<circle cx="77" cy="9" r="8" fill="#168a98"/><polygon points="73,12 81,12 77,6" fill="#fff"/>
<polygon points="108,12 114,5 152,5 152,19 114,19" fill="#159aa6"/>
<text class="tag" x="119" y="15">校园系列</text>
</g></g>

<!-- scene labels -->
<text class="lbl" x="128" y="1527" text-anchor="middle" textLength="148" lengthAdjust="spacingAndGlyphs">Smart Scenic Spot</text>
<text class="lbl" x="686" y="1526" text-anchor="middle" textLength="98" lengthAdjust="spacingAndGlyphs">Smart Track</text>
<text class="lbl" x="229.5" y="1690" text-anchor="middle" textLength="105" lengthAdjust="spacingAndGlyphs">Smart Venue</text>
<text class="lbl" x="573" y="1691" text-anchor="middle" textLength="111" lengthAdjust="spacingAndGlyphs">Smart Factory</text>
<text class="lbl" x="399.5" y="1838" text-anchor="middle" textLength="119" lengthAdjust="spacingAndGlyphs">Smart Campus</text>
</svg>
</body></html>
